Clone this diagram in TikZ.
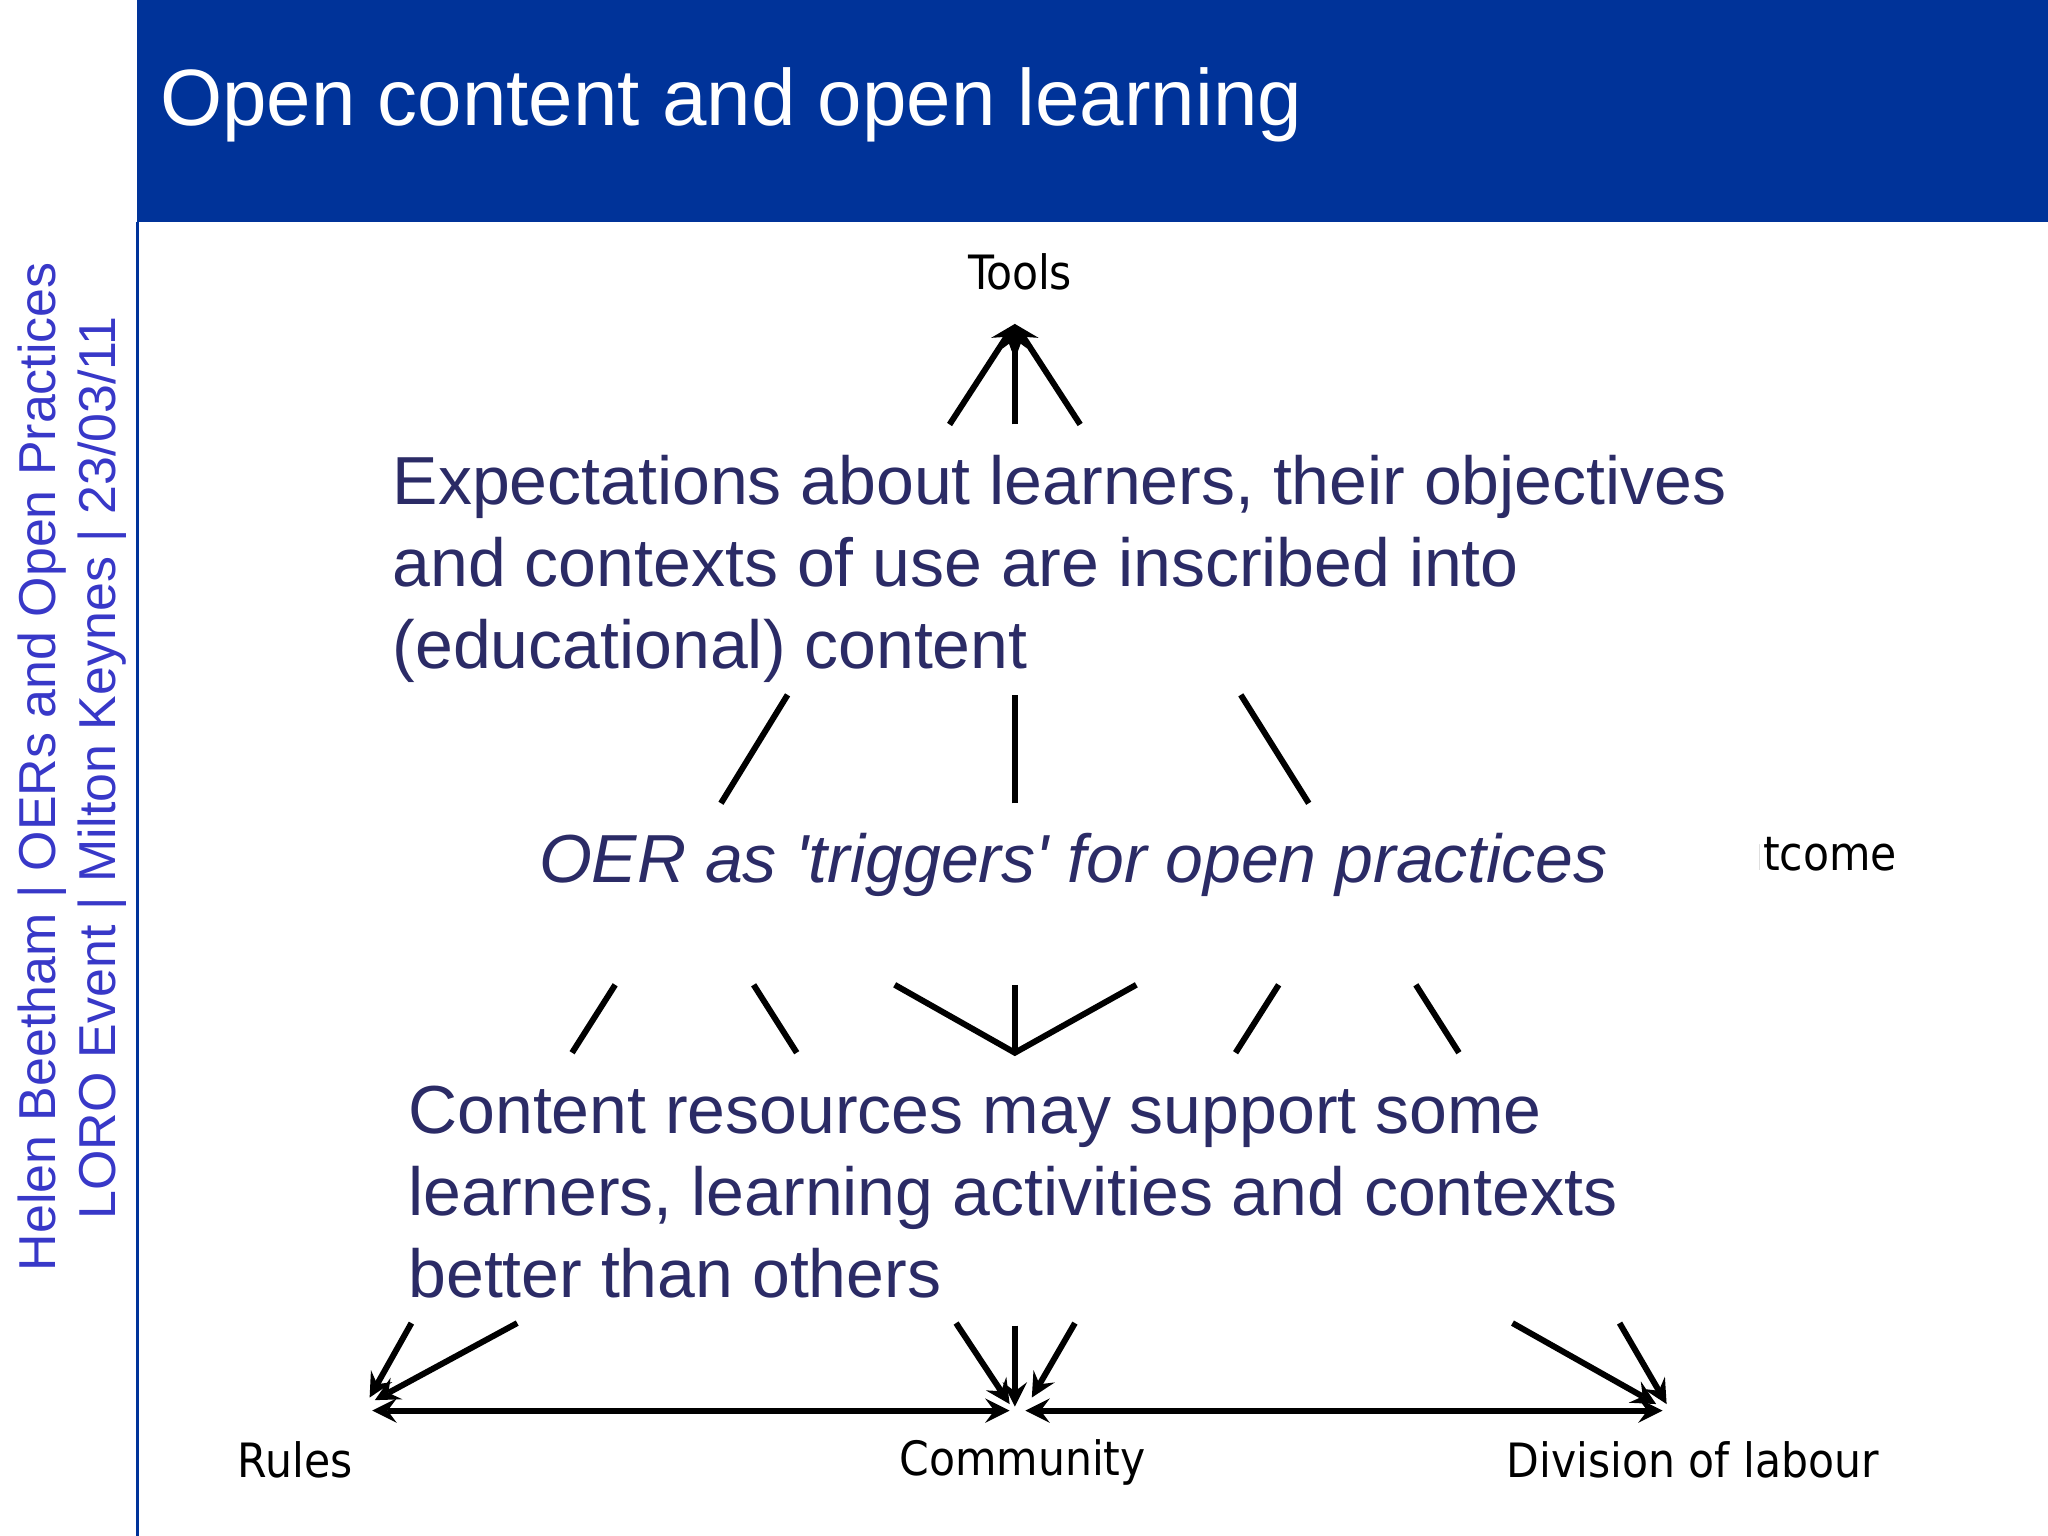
\documentclass[tikz,border=0pt]{standalone}
\usepackage{fontspec}
\setmainfont{Liberation Sans}
\newfontfamily\lblfont{DejaVu Sans Condensed}
\definecolor{hdr}{HTML}{003399}
\definecolor{side}{HTML}{3838C8}
\definecolor{body}{HTML}{2B2B66}
\begin{document}
\begin{tikzpicture}[x=0.01cm,y=-0.01cm,
  ln/.style={line width=1.3pt,black},
  ar/.style={ln,-stealth},
  lbl/.style={font=\lblfont\fontsize{10.3}{12}\selectfont,inner sep=0},
  big/.style={font=\fontsize{14.8}{17.8}\selectfont,text=body,align=left,anchor=north west,inner sep=0}]
\useasboundingbox (0,0) rectangle (1568,1176);
\fill[white] (0,0) rectangle (1568,1176);
\fill[hdr] (105,0) rectangle (1568,170);
\draw[hdr,line width=0.6pt] (105,170) -- (105,1176);
\node[anchor=west,text=white,font=\fontsize{17.4}{20}\selectfont,inner sep=0] (title) at (122,80) {Open content and open learning};
\node[rotate=90,text=side,font=\fontsize{11.3}{13}\selectfont,inner sep=0] (s1) at (32,587) {Helen Beetham | OERs and Open Practices};
\node[rotate=90,text=side,font=\fontsize{11.3}{13}\selectfont,inner sep=0] (s2) at (78,588) {LORO Event | Milton Keynes | 23/03/11};
% labels
\node[lbl] (tools) at (781,208) {Tools};
\node[lbl] (rules) at (226,1118) {Rules};
\node[lbl] (comm) at (783,1120) {Community};
\node[lbl] (div) at (1296,1118) {Division of labour};
\node[lbl,anchor=west] (out) at (1303,653) {Outcome};
\fill[white] (1250,630) rectangle (1347,680);
% coordinates
\coordinate (T) at (777,248);
\coordinate (C) at (777,806);
\coordinate (R) at (285,1080);
\coordinate (CL) at (773,1080);
\coordinate (CR) at (785,1080);
\coordinate (D) at (1273,1080);
\foreach \x in {727,777,827} \draw[ar] (\x,325) -- (T);
\draw[ln] (552,615) -- (603,532);
\draw[ln] (777,615) -- (777,532);
\draw[ln] (1002,615) -- (950,532);
\draw[ln] (438,806) -- (471,754);
\draw[ln] (610,806) -- (577,754);
\draw[ln] (685,754) -- (C) -- (870,754);
\draw[ln] (777,754) -- (C);
\draw[ln] (946,806) -- (979,754);
\draw[ln] (1117,806) -- (1084,754);
\draw[ar] (315,1013) -- (283,1070);
\draw[ar] (396,1013) -- (287,1072);
\draw[ar] (732,1013) -- (773,1075);
\draw[ar] (777,1015) -- (777,1077);
\draw[ar] (823,1013) -- (790,1070);
\draw[ar] (1158,1013) -- (1268,1075);
\draw[ar] (1240,1013) -- (1276,1075);
\draw[ln,stealth-stealth] (R) -- (CL);
\draw[ln,stealth-stealth] (CR) -- (D);
% text blocks
\node[big] (t1) at (300,348) {Expectations about learners, their objectives\\and contexts of use are inscribed into\\(educational) content};
\node[big,anchor=west] (t2) at (412,662) {\itshape OER as \textquotesingle triggers\textquotesingle\ for open practices};
\node[big] (t3) at (312,831) {Content resources may support some\\learners, learning activities and contexts\\better than others};
\end{tikzpicture}
\end{document}
